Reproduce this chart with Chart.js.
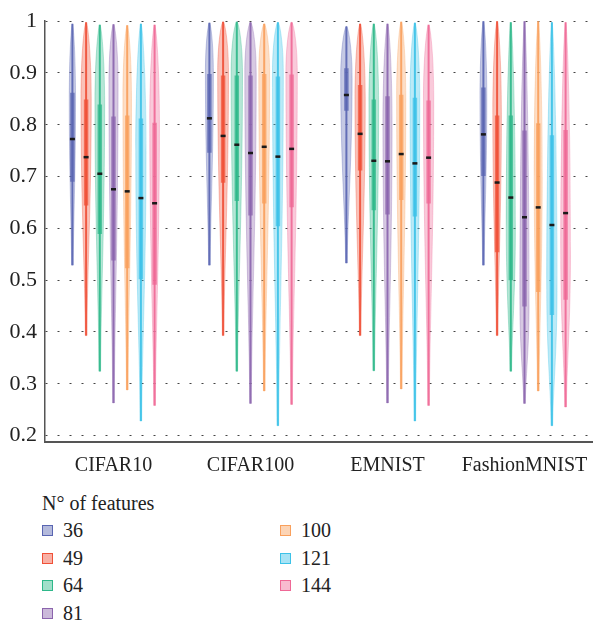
<!DOCTYPE html>
<html>
<head>
<meta charset="utf-8">
<title>Accuracy by number of features</title>
<script src="https://cdn.jsdelivr.net/npm/chart.js@4.4.1/dist/chart.umd.min.js"></script>
<style>
  body { margin: 0; background: #fff; }
  #wrap { position: relative; width: 593px; height: 624px; }
  #chart-box { position: absolute; left: 0; top: 0; width: 593px; height: 480px; }
  #legend { position: absolute; left: 42px; top: 490px; font-family: 'Liberation Serif', serif; font-size: 20px; color: #222; }
  #legend .title { height: 27px; line-height: 26px; }
  #legend ul { list-style: none; margin: 0; padding: 0; display: grid; grid-template-columns: 238px 120px; grid-template-rows: repeat(4, 27.5px); grid-auto-flow: column; }
  #legend li { display: flex; align-items: center; }
  #legend .sw { width: 9px; height: 9px; border: 1.5px solid; margin-right: 10px; }
</style>
</head>
<body>
<div id="wrap">
  <div id="chart-box"><canvas id="chart"></canvas></div>
  <div id="legend"><div class="title">N° of features</div><ul id="legend-list"></ul></div>
</div>
<script>
/* 데이터셋 / 특징 수 */
const datasetNames = ['CIFAR10', 'CIFAR100', 'EMNIST', 'FashionMNIST'];
const featureCounts = ['36', '49', '64', '81', '100', '121', '144'];
const yTicks = [0.2, 0.3, 0.4, 0.5, 0.6, 0.7, 0.8, 0.9, 1];

// 각 행 = 특징 수, 각 열 = 데이터셋
const minVals = [
  [0.529, 0.529, 0.533, 0.529],
  [0.393, 0.393, 0.393, 0.393],
  [0.324, 0.324, 0.325, 0.324],
  [0.263, 0.262, 0.263, 0.262],
  [0.288, 0.286, 0.290, 0.286],
  [0.228, 0.219, 0.228, 0.219],
  [0.258, 0.260, 0.258, 0.255]
];
const maxVals = [
  [0.995, 0.997, 0.990, 1.000],
  [0.998, 0.999, 0.995, 1.000],
  [0.993, 0.999, 0.995, 0.998],
  [0.994, 0.998, 0.995, 1.000],
  [0.992, 0.995, 0.999, 1.000],
  [0.995, 0.998, 0.997, 0.998],
  [0.993, 0.998, 0.993, 0.998]
];
const q1Vals = [
  [0.690, 0.746, 0.827, 0.701],
  [0.644, 0.688, 0.712, 0.554],
  [0.589, 0.653, 0.635, 0.500],
  [0.538, 0.625, 0.627, 0.449],
  [0.523, 0.648, 0.655, 0.477],
  [0.502, 0.604, 0.623, 0.433],
  [0.491, 0.641, 0.648, 0.462]
];
const q3Vals = [
  [0.862, 0.898, 0.909, 0.872],
  [0.849, 0.895, 0.877, 0.818],
  [0.839, 0.895, 0.849, 0.818],
  [0.816, 0.895, 0.855, 0.789],
  [0.818, 0.898, 0.858, 0.803],
  [0.812, 0.893, 0.852, 0.780],
  [0.804, 0.897, 0.847, 0.790]
];
const meanVals = [
  [0.773, 0.813, 0.858, 0.782],
  [0.738, 0.779, 0.783, 0.689],
  [0.706, 0.762, 0.731, 0.660],
  [0.676, 0.746, 0.730, 0.622],
  [0.672, 0.758, 0.744, 0.641],
  [0.659, 0.739, 0.726, 0.607],
  [0.649, 0.754, 0.737, 0.630]
];
// 바이올린이 가장 넓은 지점과 상대 폭(밀도)
const modeVals = [
  [0.85, 0.90, 0.89, 0.85],
  [0.85, 0.90, 0.85, 0.82],
  [0.84, 0.90, 0.84, 0.60],
  [0.88, 0.90, 0.80, 0.45],
  [0.85, 0.90, 0.85, 0.70],
  [0.75, 0.90, 0.85, 0.48],
  [0.80, 0.90, 0.85, 0.55]
];
const densityVals = [
  [0.55, 0.70, 1.00, 0.60],
  [0.90, 0.95, 0.90, 0.75],
  [0.85, 1.00, 0.85, 0.80],
  [0.80, 1.00, 0.80, 0.80],
  [0.75, 0.95, 0.80, 0.70],
  [0.90, 0.95, 0.85, 0.90],
  [0.85, 1.00, 0.90, 0.85]
];

const colors = [
  [89, 101, 178],
  [240, 80, 55],
  [46, 184, 138],
  [139, 100, 173],
  [249, 160, 92],
  [60, 194, 232],
  [239, 104, 150]
];
const rgba = (c, a) => 'rgba(' + c[0] + ',' + c[1] + ',' + c[2] + ',' + a + ')';

const HALF_WIDTH = 5.7; // 밀도 1.0 일 때 반폭(px)

/* 바이올린 외곽 + 수염 + 평균 표시 */
const violinPlugin = {
  id: 'violins',
  beforeDatasetsDraw(chart) {
    const ctx = chart.ctx;
    const y = chart.scales.y;
    chart.data.datasets.forEach((ds, s) => {
      const meta = chart.getDatasetMeta(s);
      meta.data.forEach((bar, i) => {
        const cx = bar.x;
        const top = y.getPixelForValue(maxVals[s][i]);
        const bot = y.getPixelForValue(minVals[s][i]);
        const mid = y.getPixelForValue(modeVals[s][i]);
        const w = densityVals[s][i] * HALF_WIDTH;

        ctx.save();
        ctx.beginPath();
        ctx.moveTo(cx, top);
        ctx.bezierCurveTo(cx + w * 0.3, top, cx + w, mid - (mid - top) * 0.6, cx + w, mid);
        ctx.bezierCurveTo(cx + w, mid + (bot - mid) * 0.45, cx + 1, bot - (bot - mid) * 0.25, cx + 0.8, bot);
        ctx.lineTo(cx - 0.8, bot);
        ctx.bezierCurveTo(cx - 1, bot - (bot - mid) * 0.25, cx - w, mid + (bot - mid) * 0.45, cx - w, mid);
        ctx.bezierCurveTo(cx - w, mid - (mid - top) * 0.6, cx - w * 0.3, top, cx, top);
        ctx.closePath();
        ctx.fillStyle = rgba(colors[s], 0.35);
        ctx.fill();
        ctx.lineWidth = 0.8;
        ctx.strokeStyle = rgba(colors[s], 0.4);
        ctx.stroke();

        // 최소~최대 선
        ctx.beginPath();
        ctx.moveTo(cx, top);
        ctx.lineTo(cx, bot);
        ctx.lineWidth = 2;
        ctx.strokeStyle = rgba(colors[s], 0.9);
        ctx.stroke();
        ctx.restore();
      });
    });
  },
  afterDatasetsDraw(chart) {
    const ctx = chart.ctx;
    const y = chart.scales.y;
    ctx.save();
    ctx.fillStyle = '#1a1a1a';
    chart.data.datasets.forEach((ds, s) => {
      chart.getDatasetMeta(s).data.forEach((bar, i) => {
        const py = y.getPixelForValue(meanVals[s][i]);
        ctx.fillRect(bar.x - 2.5, py - 1, 5, 2.5);
      });
    });
    ctx.restore();
  }
};

/* 범례 (2열) */
const htmlLegend = {
  id: 'htmlLegend',
  afterUpdate(chart) {
    const ul = document.getElementById('legend-list');
    ul.innerHTML = '';
    chart.data.datasets.forEach((ds, s) => {
      const li = document.createElement('li');
      const sw = document.createElement('span');
      sw.className = 'sw';
      sw.style.background = rgba(colors[s], 0.45);
      sw.style.borderColor = rgba(colors[s], 1);
      li.appendChild(sw);
      li.appendChild(document.createTextNode(ds.label));
      ul.appendChild(li);
    });
  }
};

Chart.defaults.font.family = "'Liberation Serif', serif";
Chart.defaults.font.size = 20;
Chart.defaults.color = '#222';

const data = {
  labels: datasetNames,
  datasets: featureCounts.map((f, s) => ({
    label: f,
    data: q1Vals[s].map((v, i) => [v, q3Vals[s][i]]),
    backgroundColor: rgba(colors[s], 0.75),
    borderWidth: 0,
    categoryPercentage: 0.7,
    barPercentage: 1,
    maxBarThickness: 4.5
  }))
};

const config = {
  type: 'bar',
  data: data,
  options: {
    responsive: true,
    maintainAspectRatio: false,
    animation: false,
    devicePixelRatio: 1,
    layout: { padding: { top: 16, right: 0, left: 0, bottom: 0 } },
    plugins: {
      legend: { display: false },
      tooltip: { enabled: false }
    },
    scales: {
      x: {
        grid: { display: false },
        border: { display: true, color: '#555', width: 2 },
        ticks: { padding: 4 },
        afterFit(scale) { scale.height = 38; }
      },
      y: {
        min: 0.1876,
        max: 1,
        grid: { color: '#444', lineWidth: 1, drawTicks: false },
        border: { display: true, color: '#555', width: 1.5, dash: [2, 10] },
        ticks: {
          padding: 8,
          font: { size: 22 },
          callback: (v) => String(Math.round(v * 10) / 10)
        },
        afterBuildTicks(scale) { scale.ticks = yTicks.map(v => ({ value: v })); },
        afterFit(scale) { scale.width = 45; }
      }
    }
  },
  plugins: [violinPlugin, htmlLegend]
};

const chart = new Chart(document.getElementById('chart'), config);
</script>
</body>
</html>
